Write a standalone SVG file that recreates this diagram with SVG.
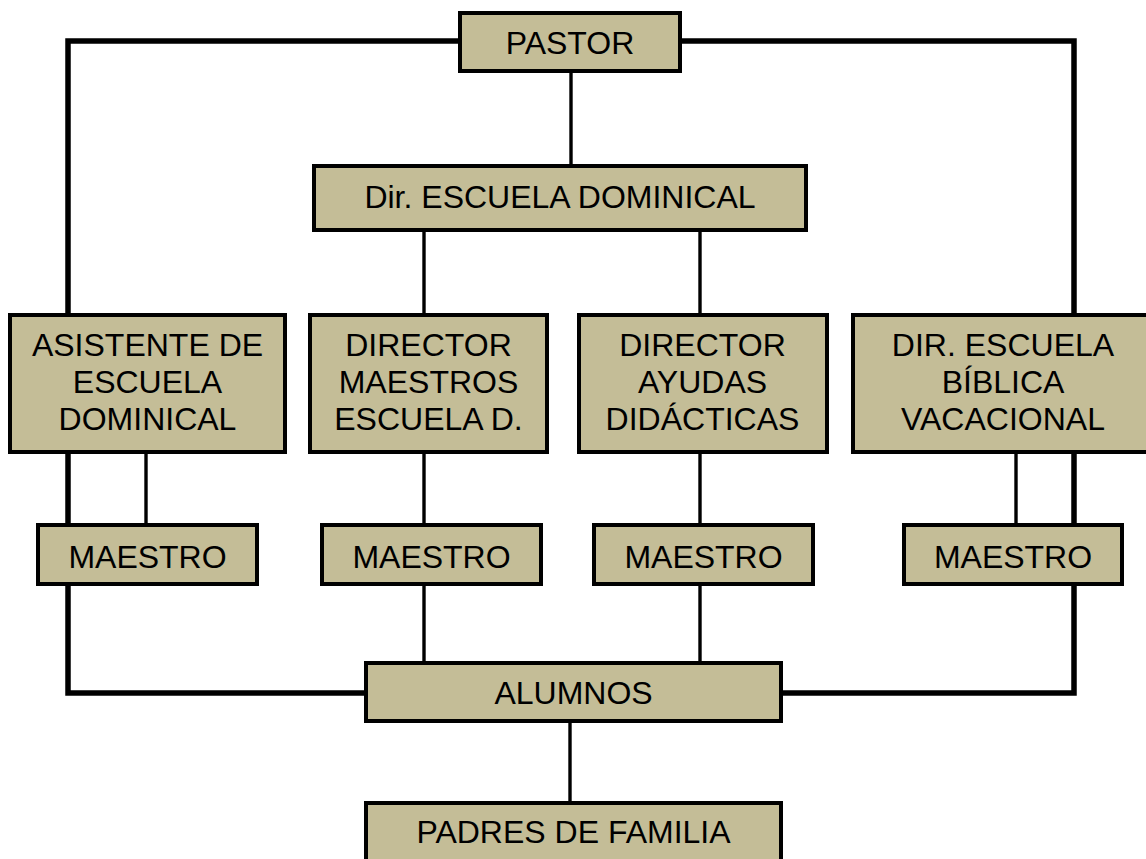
<svg xmlns="http://www.w3.org/2000/svg" width="1146" height="859" viewBox="0 0 1146 859">
<style>
.box{fill:#C4BD97;stroke:#000;stroke-width:4}
.t{font-family:"Liberation Sans",Arial,sans-serif;font-size:32px;fill:#000;text-anchor:middle}
.thick{fill:none;stroke:#000;stroke-width:5.5;stroke-linejoin:miter}
.thin{fill:none;stroke:#000;stroke-width:3.4}
</style>
<rect width="1146" height="859" fill="#fff"/>
<g id="connectors">
<path class="thick" d="M364,693 H68 V41 H458"/>
<path class="thick" d="M682,41 H1074 V693 H783"/>
<path class="thin" d="M571,73 V164"/>
<path class="thin" d="M424,232 V313"/>
<path class="thin" d="M700,232 V313"/>
<path class="thin" d="M146,454 V523"/>
<path class="thin" d="M424,454 V523"/>
<path class="thin" d="M424,586 V661"/>
<path class="thin" d="M700,454 V523"/>
<path class="thin" d="M700,586 V661"/>
<path class="thin" d="M1016,454 V523"/>
<path class="thin" d="M570,723 V801"/>
</g>
<g id="pastor"><rect class="box" x="460" y="13" width="220" height="58"/><text class="t" x="570" y="54">PASTOR</text></g>
<g id="dir-escuela-dominical"><rect class="box" x="314" y="166" width="492" height="64"/><text class="t" x="560" y="208">Dir. ESCUELA DOMINICAL</text></g>
<g id="asistente"><rect class="box" x="10" y="315" width="275" height="137"/><text class="t" x="147.5" y="356">ASISTENTE DE</text><text class="t" x="147.5" y="393">ESCUELA</text><text class="t" x="147.5" y="430">DOMINICAL</text></g>
<g id="director-maestros"><rect class="box" x="310" y="315" width="237" height="137"/><text class="t" x="428.5" y="356">DIRECTOR</text><text class="t" x="428.5" y="393">MAESTROS</text><text class="t" x="428.5" y="430">ESCUELA D.</text></g>
<g id="director-ayudas"><rect class="box" x="579" y="315" width="248" height="137"/><text class="t" x="702.5" y="356">DIRECTOR</text><text class="t" x="702.5" y="393">AYUDAS</text><text class="t" x="702.5" y="430">DIDÁCTICAS</text></g>
<g id="dir-ebv"><rect class="box" x="853" y="315" width="305" height="137"/><text class="t" x="1003" y="356">DIR. ESCUELA</text><text class="t" x="1003" y="393">BÍBLICA</text><text class="t" x="1003" y="430">VACACIONAL</text></g>
<g id="maestro1"><rect class="box" x="38" y="525" width="219" height="59"/><text class="t" x="147.5" y="568">MAESTRO</text></g>
<g id="maestro2"><rect class="box" x="322" y="525" width="219" height="59"/><text class="t" x="431.5" y="568">MAESTRO</text></g>
<g id="maestro3"><rect class="box" x="594" y="525" width="219" height="59"/><text class="t" x="703.5" y="568">MAESTRO</text></g>
<g id="maestro4"><rect class="box" x="904" y="525" width="218" height="59"/><text class="t" x="1013" y="568">MAESTRO</text></g>
<g id="alumnos"><rect class="box" x="366" y="663" width="415" height="58"/><text class="t" x="573.5" y="704">ALUMNOS</text></g>
<g id="padres"><rect class="box" x="366" y="803" width="415" height="70"/><text class="t" x="573.5" y="843">PADRES DE FAMILIA</text></g>
</svg>
